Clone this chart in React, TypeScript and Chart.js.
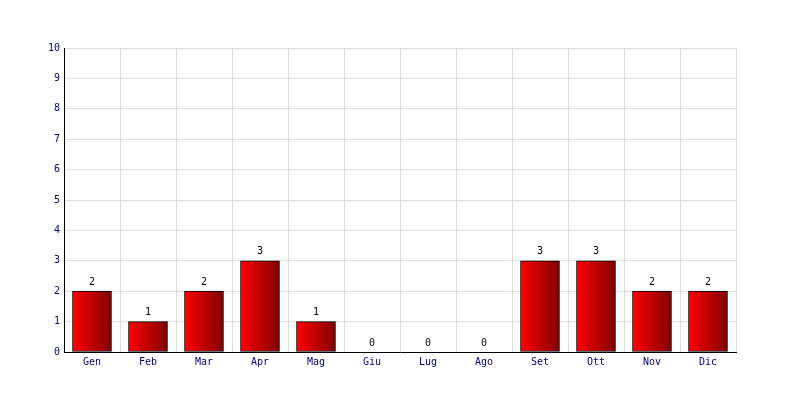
import React, { useEffect, useRef } from "react";
import { Chart, registerables } from "chart.js";

Chart.register(...registerables);

const categories = ["Gen", "Feb", "Mar", "Apr", "Mag", "Giu", "Lug", "Ago", "Set", "Ott", "Nov", "Dic"];
const values = [2, 1, 2, 3, 1, 0, 0, 0, 3, 3, 2, 2];
const yMin = 0;
const yMax = 10;
const yStep = 1;

const FONT = "'DejaVu Sans Mono', monospace";
const BAR_W = 39;

const labelPlugin = {
  id: "valueLabels",
  afterDatasetsDraw(chart: any) {
    const ctx = chart.ctx;
    const meta = chart.getDatasetMeta(0);
    ctx.save();
    ctx.font = `10px ${FONT}`;
    ctx.fillStyle = "#000000";
    ctx.textAlign = "center";
    ctx.textBaseline = "bottom";
    meta.data.forEach((el: any, i: number) => {
      ctx.fillText(String(values[i]), el.x, el.y - 4);
    });
    ctx.restore();
  },
};

export default function App() {
  const ref = useRef<HTMLCanvasElement | null>(null);
  useEffect(() => {
    document.body.style.margin = "0";
    const canvas = ref.current!;
    const chart = new Chart(canvas, {
      type: "bar",
      data: {
        labels: categories,
        datasets: [
          {
            data: values,
            backgroundColor: (c: any) => {
              const ch = c.chart;
              const xs = ch.scales?.x;
              if (!xs || c.dataIndex === undefined) return "#cc0000";
              const cx = xs.getPixelForValue(c.dataIndex);
              const w = BAR_W;
              if (!isFinite(cx)) return "#cc0000";
              const g = ch.ctx.createLinearGradient(cx - w / 2, 0, cx + w / 2, 0);
              g.addColorStop(0, "#ff0000");
              g.addColorStop(1, "#800000");
              return g;
            },
            borderColor: "#000000",
            borderWidth: 1,
            borderSkipped: false,
            barThickness: BAR_W,
          },
        ],
      },
      options: {
        responsive: false,
        animation: false,
        layout: { padding: { left: 0, right: 64, top: 48, bottom: 0 } },
        plugins: { legend: { display: false }, tooltip: { enabled: false } },
        scales: {
          x: {
            offset: true,
            grid: { color: "#dddddd", offset: true, drawTicks: false },
            border: { color: "#000000", width: 1 },
            ticks: { color: "#000080", font: { family: FONT, size: 10 }, padding: 4, maxRotation: 0 },
            afterFit: (s: any) => {
              s.height = 48;
            },
          },
          y: {
            min: yMin,
            max: yMax,
            grid: { color: "#dddddd", drawTicks: false },
            border: { color: "#000000", width: 1 },
            ticks: { stepSize: yStep, color: "#000080", font: { family: FONT, size: 10 }, padding: 4 },
            afterFit: (s: any) => {
              s.width = 64;
            },
          },
        },
      },
      plugins: [labelPlugin],
    });
    return () => chart.destroy();
  }, []);
  return <canvas ref={ref} width={800} height={400} style={{ display: "block", width: 800, height: 400 }} />;
}
